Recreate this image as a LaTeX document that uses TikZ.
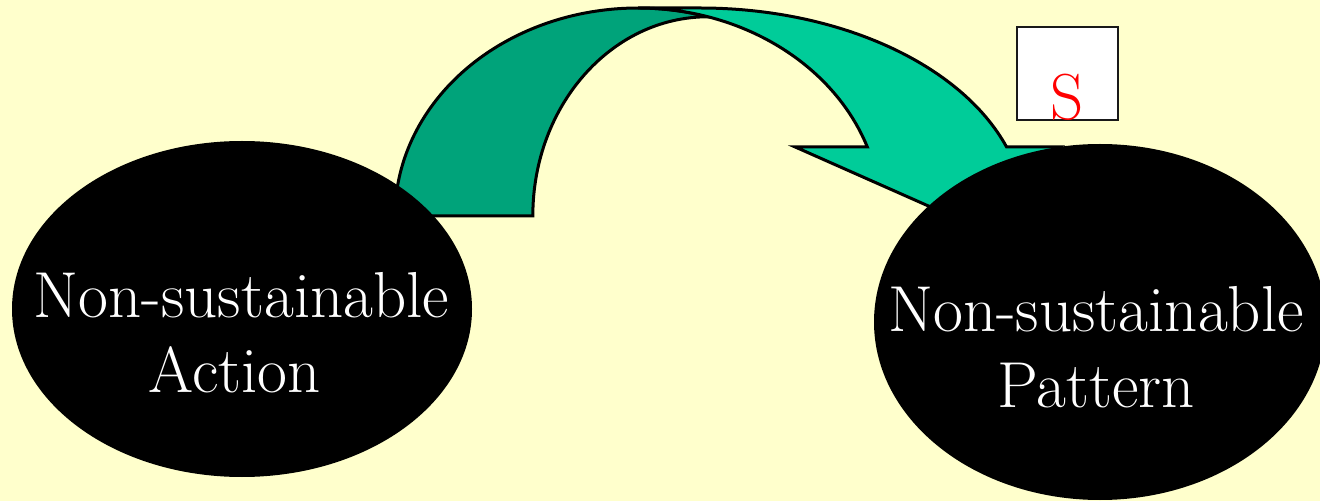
\documentclass[tikz,border=0pt]{standalone}
\usetikzlibrary{shapes.geometric}
\definecolor{bgyellow}{HTML}{FFFFCC}
\definecolor{darkband}{HTML}{00A37A}
\definecolor{lightband}{HTML}{00CC99}
\begin{document}
\begin{tikzpicture}[x=1pt,y=1pt,line join=miter,
  band/.style={draw=black,line width=3pt},
  blob/.style={ellipse,fill=black,inner sep=0pt},
  lbl/.style={text=white,inner sep=0pt,anchor=base,font=\fontsize{65}{78}\selectfont},
  sbox/.style={draw=black!90,line width=2.6pt,fill=white,inner sep=0pt,minimum width=101pt,minimum height=93pt}]
\fill[bgyellow] (0,0) rectangle (1320,501);
\useasboundingbox (0,0) rectangle (1320,501);
% back (dark) band of the curved arrow
\path[band,fill=darkband] (395,285)
  arc[start angle=180,end angle=73.3,x radius=243,y radius=208]
  arc[start angle=90,end angle=180,x radius=175,y radius=199] -- cycle;
% front (light) band with arrow head
\path[band,fill=lightband] (700,493)
  arc[start angle=90,end angle=19.4,x radius=325,y radius=208]
  -- (1060,354.1) -- (951,285) -- (795,354.1) -- (867.3,354.1)
  arc[start angle=19.4,end angle=90,x radius=243,y radius=208] -- cycle;
% ellipses
\node[blob,minimum width=460pt,minimum height=336pt] (act) at (242,192) {};
\node[blob,minimum width=452pt,minimum height=356pt] (pat) at (1100,179) {};
\node[lbl] (act1) at (241.5,183) {Non-sustainable};
\node[lbl] (act2) at (235,108) {Action};
\node[lbl] (pat1) at (1096,169) {Non-sustainable};
\node[lbl] (pat2) at (1096,93) {Pattern};
% S box
\node[sbox] (box) at (1067.5,427.5) {};
\node[lbl,text=red] (s) at (1067.5,381) {S};
\end{tikzpicture}
\end{document}
